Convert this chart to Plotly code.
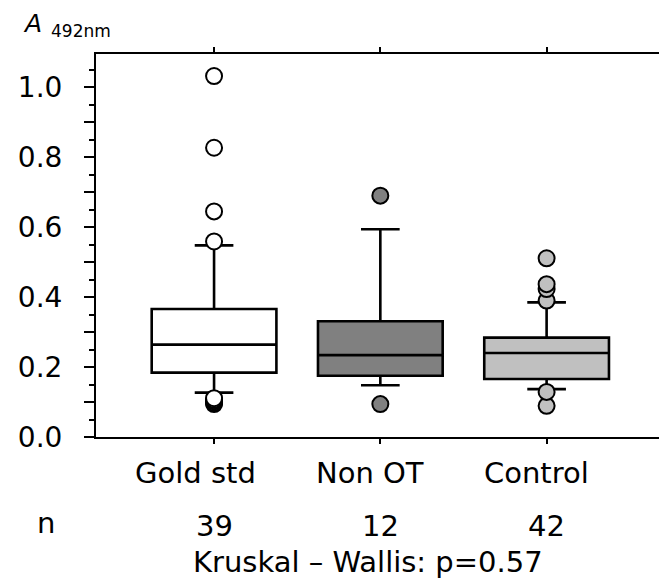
import plotly.graph_objects as go

categories = ["Gold std", "Non OT", "Control"]
n_counts = ["39", "12", "42"]
q1 = [0.184, 0.175, 0.166]
median = [0.264, 0.234, 0.240]
q3 = [0.366, 0.331, 0.284]
lower_fence = [0.127, 0.148, 0.137]
upper_fence = [0.548, 0.594, 0.385]
outliers = [
    [0.094, 0.098, 0.102, 0.106, 0.111, 0.559, 0.645, 0.827, 1.032],
    [0.094, 0.690],
    [0.089, 0.129, 0.390, 0.423, 0.437, 0.511],
]
fills = ["#ffffff", "#808080", "#c0c0c0"]
y_tick_vals = [0.0, 0.1, 0.2, 0.3, 0.4, 0.5, 0.6, 0.7, 0.8, 0.9, 1.0]
y_tick_text = ["0.0", "", "0.2", "", "0.4", "", "0.6", "", "0.8", "", "1.0"]
stat_text = "Kruskal – Wallis: p=0.57"

FONT = "DejaVu Sans"
fig = go.Figure()

for i, cat in enumerate(categories):
    fig.add_trace(go.Box(
        x=[cat], q1=[q1[i]], median=[median[i]], q3=[q3[i]],
        lowerfence=[lower_fence[i]], upperfence=[upper_fence[i]],
        width=0.75, whiskerwidth=0.31, fillcolor=fills[i],
        line=dict(color="black", width=2.6), boxpoints=False,
        showlegend=False, hoverinfo="skip",
    ))
for i, cat in enumerate(categories):
    fig.add_trace(go.Scatter(
        x=[cat] * len(outliers[i]), y=outliers[i], mode="markers",
        marker=dict(size=16, color=fills[i], line=dict(color="black", width=2)),
        showlegend=False, hoverinfo="skip",
    ))

fig.update_layout(
    width=667, height=580,
    margin=dict(l=84, r=10, t=46, b=151),
    paper_bgcolor="white", plot_bgcolor="white",
    font=dict(family=FONT, color="black"),
    boxmode="overlay",
)
fig.update_xaxes(
    type="category", categoryorder="array", categoryarray=categories,
    range=[-0.71, 2.70], showgrid=False, zeroline=False,
    showline=True, linecolor="black", linewidth=2, mirror="ticks",
    ticks="outside", ticklen=5, tickwidth=2, tickcolor="black",
    showticklabels=False,
)
fig.update_yaxes(
    range=[0, 1.095], showgrid=False, zeroline=False,
    showline=True, linecolor="black", linewidth=2, mirror=True,
    tickvals=y_tick_vals, ticktext=y_tick_text,
    ticks="outside", ticklen=10, tickwidth=2, tickcolor="black",
    tickfont=dict(size=28, family=FONT, color="black"),
    ticklabelstandoff=16,
    minor=dict(dtick=0.05, tick0=0, ticks="outside", ticklen=5, tickwidth=2, tickcolor="black"),
)

label_shift = [-19, -10, -10]
for i, cat in enumerate(categories):
    fig.add_annotation(x=cat, xref="x", y=0, yref="paper", yanchor="middle",
                       yshift=-36, xshift=label_shift[i], text=cat, showarrow=False,
                       font=dict(size=29, family=FONT, color="black"))
    fig.add_annotation(x=cat, xref="x", y=0, yref="paper", yanchor="middle",
                       yshift=-89, text=n_counts[i], showarrow=False,
                       font=dict(size=29, family=FONT, color="black"))

fig.add_annotation(x=-51 / 573, xref="paper", y=0, yref="paper", yanchor="middle",
                   xanchor="center", yshift=-86, text="n", showarrow=False,
                   font=dict(size=29, family=FONT, color="black"))

fig.add_annotation(x="Non OT", xref="x", y=0, yref="paper", yanchor="middle",
                   yshift=-125, xshift=-12, text=stat_text, showarrow=False,
                   font=dict(size=29, family=FONT, color="black"))

fig.add_annotation(x=-75 / 573, xref="paper", y=1, yref="paper", xanchor="left",
                   yanchor="bottom", yshift=15, borderpad=0, text="<i>A</i>&nbsp;",
                   showarrow=False, font=dict(size=25, family=FONT, color="black"))
fig.add_annotation(x=-48 / 573, xref="paper", y=1, yref="paper", xanchor="left",
                   yanchor="bottom", yshift=11, text="492nm", showarrow=False,
                   font=dict(size=17, family=FONT, color="black"))

fig.write_html("out.html")
